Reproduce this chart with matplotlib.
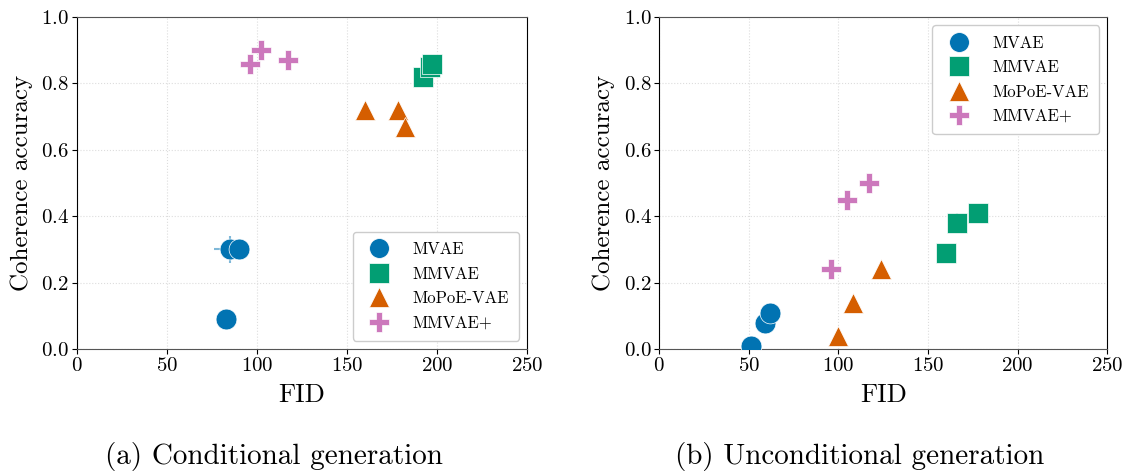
import numpy as np
import matplotlib
matplotlib.use("Agg")
import matplotlib.pyplot as plt

plt.rcParams["font.family"] = "serif"
plt.rcParams["font.serif"] = ["cmr10", "DejaVu Serif"]
plt.rcParams["mathtext.fontset"] = "cm"
plt.rcParams["axes.formatter.use_mathtext"] = True

models = ["MVAE", "MMVAE", "MoPoE-VAE", "MMVAE+"]
colors = ["#0173b2", "#029e73", "#d55e00", "#cc78bc"]
markers = ["o", "s", "^", "P"]

# conditional generation: FID, coherence, errors
cond_fid = {
    "MVAE": [83, 85, 90],
    "MMVAE": [192, 196, 197],
    "MoPoE-VAE": [160, 178, 182],
    "MMVAE+": [96, 102, 117],
}
cond_coh = {
    "MVAE": [0.09, 0.30, 0.30],
    "MMVAE": [0.82, 0.85, 0.86],
    "MoPoE-VAE": [0.72, 0.72, 0.67],
    "MMVAE+": [0.86, 0.90, 0.87],
}
cond_fid_err = {
    "MVAE": [2, 9, 1],
    "MMVAE": [1, 1, 1],
    "MoPoE-VAE": [2, 1, 1],
    "MMVAE+": [1, 1, 1],
}
cond_coh_err = {
    "MVAE": [0.005, 0.04, 0.005],
    "MMVAE": [0.01, 0.01, 0.01],
    "MoPoE-VAE": [0.01, 0.01, 0.01],
    "MMVAE+": [0.005, 0.005, 0.005],
}

# unconditional generation
unc_fid = {
    "MVAE": [51, 59, 62],
    "MMVAE": [160, 166, 178],
    "MoPoE-VAE": [100, 108, 124],
    "MMVAE+": [96, 105, 117],
}
unc_coh = {
    "MVAE": [0.01, 0.08, 0.11],
    "MMVAE": [0.29, 0.38, 0.41],
    "MoPoE-VAE": [0.04, 0.14, 0.24],
    "MMVAE+": [0.24, 0.45, 0.50],
}
unc_fid_err = {
    "MVAE": [1, 1, 1],
    "MMVAE": [1, 1, 1],
    "MoPoE-VAE": [1, 1, 1],
    "MMVAE+": [1, 1, 1],
}
unc_coh_err = {
    "MVAE": [0.005, 0.005, 0.005],
    "MMVAE": [0.005, 0.03, 0.005],
    "MoPoE-VAE": [0.005, 0.005, 0.005],
    "MMVAE+": [0.005, 0.005, 0.005],
}


def draw(ax, fid, coh, fid_err, coh_err, loc):
    for m, c, mk in zip(models, colors, markers):
        ax.errorbar(fid[m], coh[m], xerr=fid_err[m], yerr=coh_err[m], fmt="none",
                    ecolor=c, alpha=0.5, elinewidth=1.5, zorder=2)
        ax.plot(fid[m], coh[m], linestyle="none", marker=mk, color=c,
                markersize=15, markeredgecolor="white", markeredgewidth=0.5,
                label=m, zorder=3)
    ax.set_xlim(0, 250)
    ax.set_ylim(0, 1.0)
    ax.set_xticks(np.arange(0, 251, 50))
    ax.set_yticks(np.arange(0, 1.01, 0.2))
    ax.set_xlabel("FID", fontsize=19, labelpad=6)
    ax.set_ylabel("Coherence accuracy", fontsize=18, labelpad=6)
    ax.tick_params(labelsize=15, pad=2)
    ax.spines["top"].set_color("#555555")
    ax.spines["bottom"].set_color("#555555")
    ax.grid(True, linestyle=":", color="#dddddd", linewidth=0.8)
    ax.legend(loc=loc, fontsize=12, framealpha=1, edgecolor="#cccccc",
              handletextpad=1.0, borderpad=0.6, labelspacing=0.55,
              markerscale=0.95)


fig = plt.figure(figsize=(11.27, 4.73), dpi=100)
ax1 = fig.add_axes([0.068, 0.262, 0.4, 0.702])
ax2 = fig.add_axes([0.585, 0.262, 0.3975, 0.702])

draw(ax1, cond_fid, cond_coh, cond_fid_err, cond_coh_err, "lower right")
draw(ax2, unc_fid, unc_coh, unc_fid_err, unc_coh_err, "upper right")

fig.text(0.243, 0.035, "(a) Conditional generation", ha="center",
         va="center", fontsize=21)
fig.text(0.763, 0.035, "(b) Unconditional generation", ha="center",
         va="center", fontsize=21)

fig.savefig("out.png", dpi=100)
